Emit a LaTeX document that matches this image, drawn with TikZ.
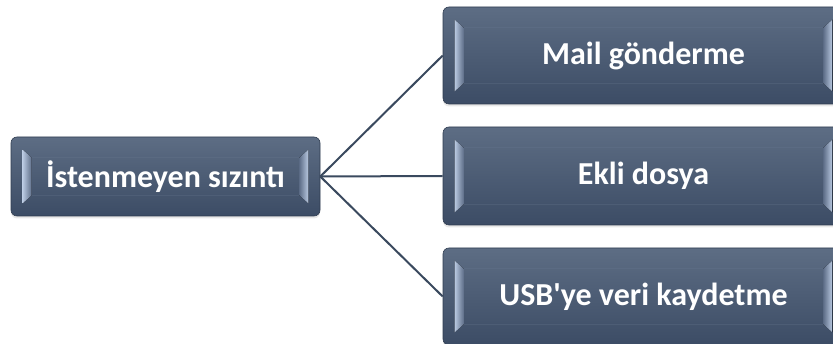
\documentclass[tikz,border=0pt]{standalone}
\usepackage{fontspec}
\setmainfont{Carlito}
\usetikzlibrary{calc,shadows}

\definecolor{bodytop}{HTML}{5D6D84}
\definecolor{bodybot}{HTML}{3C4C65}
\definecolor{bevlight}{HTML}{B8C8E0}
\definecolor{bevdark}{HTML}{5E6E88}
\definecolor{linkcol}{HTML}{3A495E}
\definecolor{facerim}{HTML}{6B7B93}

\tikzset{
  boxbody/.style={
    rounded corners=6pt, inner sep=0pt,
    top color=bodytop, bottom color=bodybot,
    draw=bodybot!80!black, line width=0.6pt,
    drop shadow={opacity=0.18, shadow xshift=0pt, shadow yshift=-2.5pt},
    text=white, font=\fontsize{32}{38}\selectfont\bfseries
  },
  linkline/.style={draw=linkcol, line width=2pt}
}

% bevelled side faces of a box node
\newcommand\bevelfaces[1]{%
  \draw[facerim, line width=0.5pt, opacity=0.25]
    ($(#1.north west)+(21,21)$) rectangle ($(#1.south east)+(-21,-21)$);
  \fill[left color=bevlight, right color=bevdark]
    ($(#1.north west)+(12,13)$) -- ($(#1.north west)+(21,21)$) --
    ($(#1.south west)+(21,-21)$) -- ($(#1.south west)+(12,-13)$) -- cycle;
  \fill[right color=bevlight, left color=bevdark]
    ($(#1.north east)+(-12,13)$) -- ($(#1.north east)+(-21,21)$) --
    ($(#1.south east)+(-21,-21)$) -- ($(#1.south east)+(-12,-13)$) -- cycle;
}

\begin{document}
\begin{tikzpicture}[x=1pt, y=-1pt]
  \fill[white] (0,0) rectangle (833,344);
  \useasboundingbox (0,0) rectangle (833,344);
  \clip (0,0) rectangle (833,344);

  % source box
  \node[boxbody, minimum width=309pt, minimum height=79pt] (src) at (165.5,176.5) {İstenmeyen sızıntı};
  \bevelfaces{src}

  % target boxes
  \node[boxbody, minimum width=401pt, minimum height=97pt] (t1) at (643.5,55.5) {Mail gönderme};
  \bevelfaces{t1}
  \node[boxbody, minimum width=401pt, minimum height=98pt] (t2) at (643.5,176) {Ekli dosya};
  \bevelfaces{t2}
  \node[boxbody, minimum width=401pt, minimum height=97pt] (t3) at (643.5,296.5) {USB\textquotesingle ye veri kaydetme};
  \bevelfaces{t3}

  % connectors
  \draw[linkline] (src.east) -- (t1.west);
  \draw[linkline] (src.east) -- (t2.west);
  \draw[linkline] (src.east) -- (t3.west);
\end{tikzpicture}
\end{document}
